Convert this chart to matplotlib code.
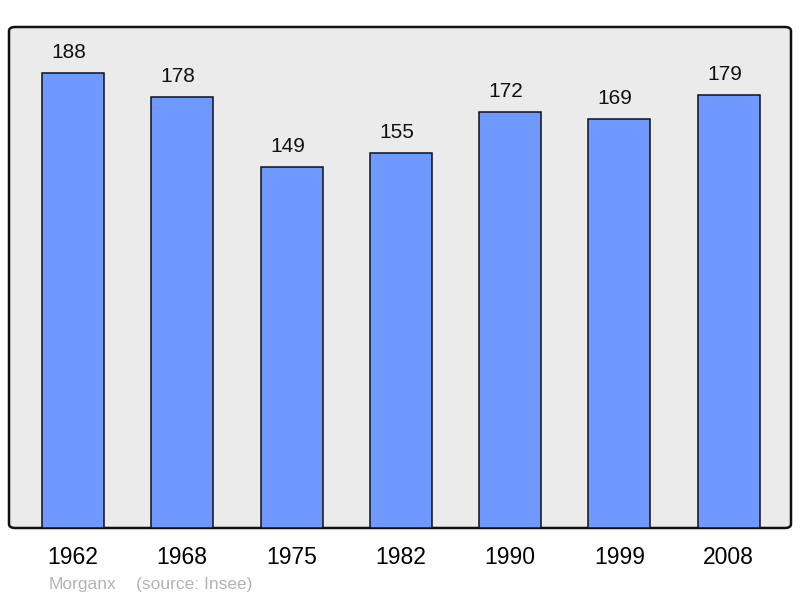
import matplotlib
matplotlib.use("Agg")
import matplotlib.pyplot as plt
from matplotlib.patches import FancyBboxPatch

years = ["1962", "1968", "1975", "1982", "1990", "1999", "2008"]
population = [188, 178, 149, 155, 172, 169, 179]

plt.rcParams['font.family'] = ['Liberation Sans', 'DejaVu Sans']

fig = plt.figure(figsize=(8, 5.98), dpi=100)
L, R = 9/800, 791/800
B, T = 70/598, 571/598
ax = fig.add_axes([L, B, R-L, T-B])
ax.set_facecolor('none')

box = FancyBboxPatch((0, 0), 1, 1, boxstyle="round,pad=0,rounding_size=0.008",
                     transform=ax.transAxes, facecolor='#ebebeb', edgecolor='#111111',
                     linewidth=1.8, zorder=0, clip_on=False)
ax.add_patch(box)

x = list(range(len(years)))
bars = ax.bar(x, population, width=0.567, color='#7099ff', edgecolor='#111111', linewidth=1.1, zorder=2)
for xi, v in zip(x, population):
    ax.annotate(str(v), (xi, v), xytext=(-3, 8), textcoords='offset points',
                ha='center', va='bottom', fontsize=15, color='#111111')

ax.set_xlim(-0.585, 6.57)
ax.set_ylim(0, 207)
ax.set_xticks(x)
ax.set_xticklabels(years, fontsize=16.5)
ax.tick_params(axis='x', length=0, pad=13)
ax.set_yticks([])
for s in ax.spines.values():
    s.set_visible(False)

fig.text(49/800, 1-584/598, "Morganx", fontsize=12.5, color='#b3b3b3', va='center', ha='left')
fig.text(136/800, 1-584/598, "(source: Insee)", fontsize=12.5, color='#b3b3b3', va='center', ha='left')

fig.savefig("out.png", dpi=100, facecolor='white')
